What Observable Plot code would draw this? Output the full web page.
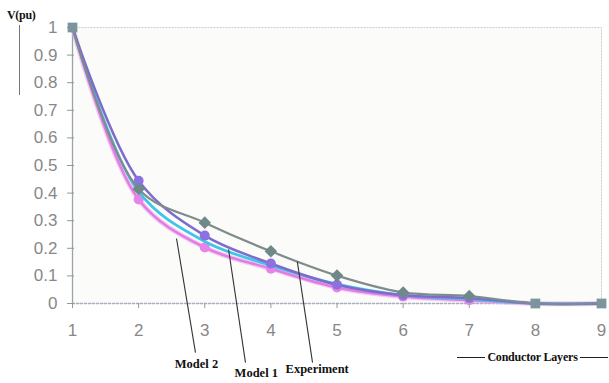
<!DOCTYPE html>
<html>
<head>
<meta charset="utf-8">
<script src="https://cdn.jsdelivr.net/npm/d3@7"></script>
<script src="https://cdn.jsdelivr.net/npm/@observablehq/plot@0.6"></script>
<style>
  html, body { margin: 0; padding: 0; background: #fff; }
  #wrap { position: relative; width: 609px; height: 383px; overflow: hidden; }
  #chart { position: absolute; left: 0; top: 0; }
  #ylab { position: absolute; left: 7px; top: 8px; font: bold 12px "Liberation Serif", "Times New Roman", serif; color: #111; letter-spacing: -0.3px; }
  #ybar { position: absolute; left: 19px; top: 25px; width: 0; height: 70px; border-left: 1.5px solid #777; }
  #xlab { position: absolute; left: 457px; top: 350px; width: 151px; display: flex; align-items: center; font: bold 12px "Liberation Serif", "Times New Roman", serif; color: #111; letter-spacing: -0.2px; }
  #xlab::before, #xlab::after { content: ""; flex: 1; border-top: 1.2px solid #222; }
  #xlab span { padding: 0 2px; white-space: nowrap; }
</style>
</head>
<body>
<div id="wrap">
  <div id="chart"></div>
  <div id="ylab">V(pu)</div>
  <div id="ybar"></div>
  <div id="xlab"><span>Conductor Layers</span></div>
</div>
<script>
// ---- data ----
const layers     = [1, 2, 3, 4, 5, 6, 7, 8, 9];
const experiment = [1, 0.415, 0.293, 0.189, 0.101, 0.040, 0.027, 0, 0];
const model1     = [1, 0.445, 0.246, 0.145, 0.068, 0.030, 0.020, 0, 0];
const modelCyan  = [1, 0.405, 0.225, 0.138, 0.070, 0.030, 0.016, 0, 0];
const model2     = [1, 0.377, 0.203, 0.126, 0.058, 0.025, 0.012, 0, 0];
const yTicks     = [0, 0.1, 0.2, 0.3, 0.4, 0.5, 0.6, 0.7, 0.8, 0.9, 1];
const xTicks     = [1, 2, 3, 4, 5, 6, 7, 8, 9];

// annotation labels (anchor on curve, end of leader below axis, text position)
const annLabels  = ["Model 2", "Model 1", "Experiment"];
const annAnchorX = [2.573, 3.36, 4.40];
const annAnchorY = [0.2355, 0.196, 0.152];
const annEndX    = [2.86, 3.616, 4.63];
const annEndY    = [-0.178, -0.214, -0.214];
const annTextX   = [2.875, 3.78, 4.70];
const annTextDy  = [64, 73, 69];

const rows = (ys) => layers.map((x, i) => ({x, y: ys[i]}));
const exp = rows(experiment), m1 = rows(model1), mc = rows(modelCyan), m2 = rows(model2);
// points shared by every series (drawn with the square marker)
const shared = layers.map((x, i) => ({x, y: experiment[i],
  same: experiment[i] === model1[i] && model1[i] === modelCyan[i] && modelCyan[i] === model2[i]}))
  .filter(d => d.same);
const idx = (d) => d.x >= 2 && d.x <= 7;
const ann = annLabels.map((t, i) => ({t, ax: annAnchorX[i], ay: annAnchorY[i], ex: annEndX[i], ey: annEndY[i], tx: annTextX[i], dy: annTextDy[i]}));

const serif = "'Liberation Serif', 'Times New Roman', serif";

const chart = Plot.plot({
  width: 609,
  height: 383,
  marginTop: 27,
  marginBottom: 80,
  marginLeft: 72,
  marginRight: 8,
  style: {background: "transparent", fontFamily: "'Liberation Sans', Arial, sans-serif", overflow: "visible"},
  x: {domain: [1, 9]},
  y: {domain: [0, 1]},
  marks: [
    Plot.frame({fill: "#fbfbf9", stroke: "#c9ced3", strokeDasharray: "2,1"}),
    Plot.ruleX([1], {stroke: "#9aa3a6", strokeWidth: 1.3}),
    Plot.ruleY([0], {stroke: "#a9b0c0", strokeWidth: 1.5, strokeDasharray: "3,1"}),
    Plot.axisY({ticks: yTicks, tickSize: 7, dx: 2, stroke: "#8f9a9c", tickFormat: () => "", label: null}),
    Plot.axisY({ticks: yTicks, tickSize: 0, tickPadding: 15, fontSize: 17, color: "#888888", tickFormat: d => String(+d.toFixed(1)), label: null}),
    Plot.axisX({ticks: xTicks, tickSize: 5, stroke: "#8f9a9c", tickFormat: () => "", label: null}),
    Plot.axisX({ticks: xTicks, tickSize: 0, tickPadding: 20, fontSize: 17, color: "#888888", tickFormat: d => String(d), label: null}),
    // Model 2 (pink)
    Plot.line(m2, {x: "x", y: "y", curve: "catmull-rom", stroke: "#f0a8f0", strokeWidth: 5, strokeOpacity: 0.6}),
    Plot.line(m2, {x: "x", y: "y", curve: "catmull-rom", stroke: "#e07ce2", strokeWidth: 2.5}),
    Plot.dot(m2.filter(idx), {x: "x", y: "y", r: 5, fill: "#e784e8", stroke: "none"}),
    // cyan
    Plot.line(mc, {x: "x", y: "y", curve: "catmull-rom", stroke: "#3ec6e8", strokeWidth: 2.8}),
    // Model 1 (purple)
    Plot.line(m1, {x: "x", y: "y", curve: "catmull-rom", stroke: "#7e6ccc", strokeWidth: 2.5}),
    Plot.dot(m1.filter(idx), {x: "x", y: "y", r: 5, fill: "#8c72e0", stroke: "none"}),
    // Experiment (gray)
    Plot.line(exp, {x: "x", y: "y", curve: "catmull-rom", stroke: "#7f8c8c", strokeWidth: 2.2}),
    Plot.dot(exp.filter(idx), {x: "x", y: "y", r: 5, symbol: "square", rotate: 45, fill: "#6f8989", stroke: "none"}),
    // shared points
    Plot.dot(shared, {x: "x", y: "y", r: 5.5, symbol: "square", fill: "#7b949e", stroke: "none"}),
    // annotations
    Plot.link(ann, {x1: "ax", y1: "ay", x2: "ex", y2: "ey", stroke: "#333", strokeWidth: 1.1, clip: false}),
    ...ann.map(a => Plot.text([a], {x: "tx", text: "t", frameAnchor: "bottom", dy: a.dy, fontSize: 12.5, fontWeight: "bold", fontFamily: serif, fill: "#111"}))
  ]
});
document.getElementById("chart").appendChild(chart);
</script>
</body>
</html>
